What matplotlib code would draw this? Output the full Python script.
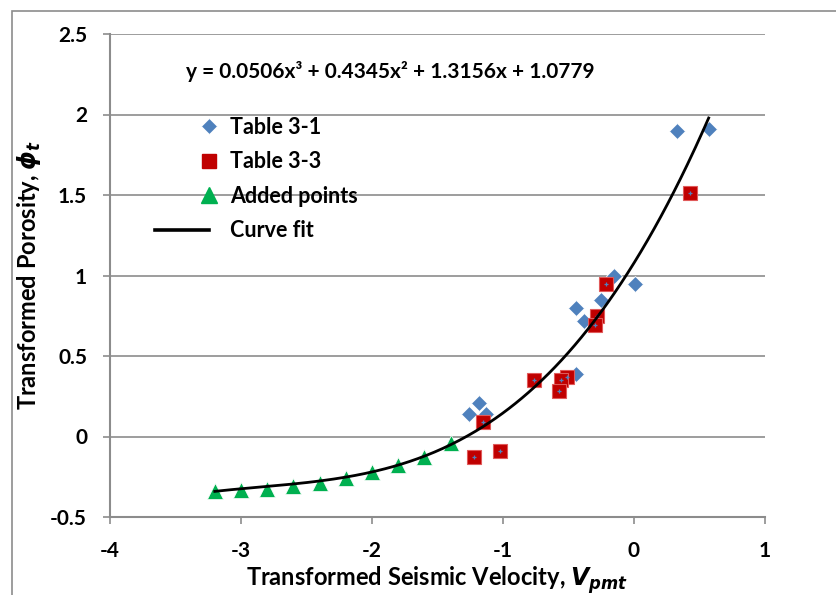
import numpy as np
import matplotlib
matplotlib.use("Agg")
import matplotlib.pyplot as plt
from matplotlib.lines import Line2D
from matplotlib.legend_handler import HandlerLine2D
from matplotlib.patches import Rectangle

plt.rcParams["font.family"] = "Lato"
plt.rcParams["font.weight"] = "bold"
plt.rcParams["mathtext.fontset"] = "custom"
plt.rcParams["mathtext.rm"] = "Lato:bold"
plt.rcParams["mathtext.it"] = "DejaVu Sans:italic:bold"
plt.rcParams["mathtext.bf"] = "Lato:bold"

# Table 3-1 (blue diamonds)
t31_x = [0.57, 0.33, -0.15, 0.01, -0.25, -0.44, -0.38, -0.44, -1.18, -1.26, -1.13]
t31_y = [1.91, 1.90, 1.00, 0.95, 0.85, 0.80, 0.72, 0.39, 0.21, 0.14, 0.14]

# Table 3-3 (red squares)
t33_x = [0.43, -0.21, -0.28, -0.30, -0.76, -0.51, -0.56, -0.57, -1.15, -1.02, -1.22]
t33_y = [1.51, 0.95, 0.75, 0.69, 0.35, 0.37, 0.35, 0.28, 0.09, -0.09, -0.13]

# Added points (green triangles)
added_x = [-3.2, -3.0, -2.8, -2.6, -2.4, -2.2, -2.0, -1.8, -1.6, -1.4]
added_y = [-0.34, -0.335, -0.325, -0.305, -0.29, -0.26, -0.22, -0.18, -0.13, -0.04]

# cubic trendline, as printed on the chart
fit_coeffs = [0.0506, 0.4345, 1.3156, 1.0779]
fit_range = [-3.2, 0.57]
equation = "y = 0.0506x\u00b3 + 0.4345x\u00b2 + 1.3156x + 1.0779"

x_ticks = [-4, -3, -2, -1, 0, 1]
y_ticks = [-0.5, 0, 0.5, 1, 1.5, 2, 2.5]

BLUE = "#4f81bd"
RED = "#c00000"
GREEN = "#00b050"
GRAY = "#8c8c8c"


class MarkerKey(HandlerLine2D):
    # put the single legend marker at the right end of the key
    def get_xdata(self, legend, xdescent, ydescent, width, height, fontsize):
        xdata = [-xdescent, -xdescent + 2 * width]
        return xdata, [-xdescent + width]


fig = plt.figure(figsize=(8.37, 5.95), dpi=100)
ax = fig.add_axes([110 / 837, 1 - 517 / 595, 655 / 837, 483 / 595])

ax.set_axisbelow(True)
ax.grid(axis="y", color=GRAY, lw=1.2)

fx = np.linspace(fit_range[0], fit_range[1], 300)
ax.plot(fx, np.polyval(fit_coeffs, fx), color="black", lw=2.0, zorder=4)

ax.plot(t31_x, t31_y, "D", ms=7.8, color=BLUE, mec="white", mew=0.6, zorder=3)
ax.plot(t33_x, t33_y, "s", ms=9.4, color=RED, mec="#e05a5a", mew=0.8, zorder=3)
ax.plot(t33_x, t33_y, "+", ms=3.5, color=BLUE, mew=0.9, zorder=3)
ax.plot(added_x, added_y, "^", ms=12, color=GREEN, mec="white", mew=0.5, zorder=3)

ax.set_xlim(-4, 1)
ax.set_ylim(-0.5, 2.5)
ax.set_xticks(x_ticks)
ax.set_yticks(y_ticks)
ax.set_xticklabels([f"{v:g}" for v in x_ticks], fontweight="bold")
ax.set_yticklabels([f"{v:g}" for v in y_ticks], fontweight="bold")
ax.tick_params(axis="both", colors=GRAY, labelcolor="black", labelsize=15,
               length=5, width=1.2, direction="out")
ax.tick_params(axis="x", pad=12)
ax.tick_params(axis="y", pad=11.5)

for side in ("top", "right"):
    ax.spines[side].set_visible(False)
for side in ("left", "bottom"):
    ax.spines[side].set_color(GRAY)
    ax.spines[side].set_linewidth(1.5)

ax.set_xlabel(r"Transformed Seismic Velocity, $V_{pmt}$", fontsize=17,
              fontweight="bold", labelpad=3)
ax.set_ylabel(r"Transformed Porosity, $\phi_t$", fontsize=17,
              fontweight="bold", labelpad=5)

fig.text(186 / 837, 1 - 71 / 595, equation, fontsize=15, fontweight="bold",
         va="center", ha="left")

marker_handles = [
    Line2D([], [], ls="none", marker="D", ms=7.8, color=BLUE, mec="white", mew=0.6),
    Line2D([], [], ls="none", marker="s", ms=9.4, color=RED),
    Line2D([], [], ls="none", marker="^", ms=12, color=GREEN),
]
line_handle = Line2D([], [], color="black", lw=2.6)
labels = ["Table 3-1", "Table 3-3", "Added points", "Curve fit"]
hmap = {h: MarkerKey() for h in marker_handles}
ax.legend(marker_handles + [line_handle], labels, handler_map=hmap, loc="upper left",
          bbox_to_anchor=(155 / 837, 1 - 117 / 595), bbox_transform=fig.transFigure,
          frameon=False, prop={"size": 15.5, "weight": "bold"},
          handlelength=2.5, handletextpad=0.98, labelspacing=0.62,
          borderpad=0, borderaxespad=0)

# outer chart frame (cut off at right and bottom)
fig.patches.append(Rectangle((12 / 837, -0.1), 1.2, 1.1 - 11 / 595, fill=False,
                             edgecolor=GRAY, lw=1.2, transform=fig.transFigure))

fig.savefig("out.png", dpi=100)
